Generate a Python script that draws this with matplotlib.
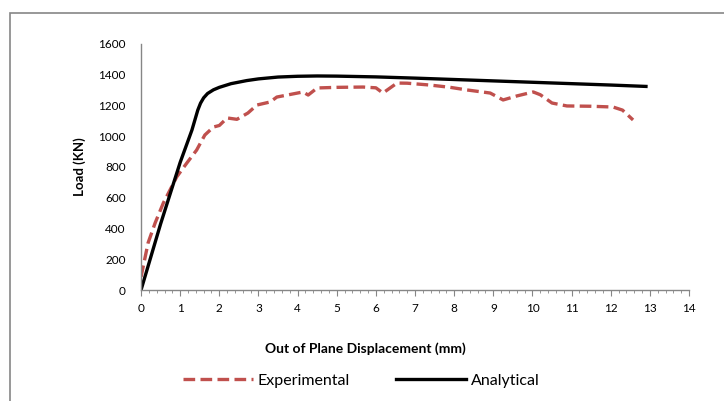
import matplotlib.pyplot as plt
from matplotlib.ticker import MultipleLocator
from matplotlib.patches import Rectangle

plt.rcParams['font.family'] = ['Lato', 'DejaVu Sans']

# Experimental curve
exp_disp = [0.0, 0.18, 0.36, 0.57, 0.78, 0.91, 1.17, 1.42, 1.63, 1.85, 2.0, 2.2,
            2.45, 2.73, 2.96, 3.3, 3.47, 4.14, 4.27, 4.5, 5.0, 5.67, 6.0, 6.18,
            6.54, 6.8, 7.38, 7.9, 8.33, 8.92, 9.25, 9.6, 10.02, 10.2, 10.5,
            10.88, 11.5, 12.06, 12.3, 12.57]
exp_load = [85, 306, 436, 566, 670, 735, 826, 910, 1008, 1060, 1070, 1119,
            1110, 1151, 1203, 1223, 1255, 1288, 1268, 1314, 1318, 1320, 1315, 1281,
            1346, 1345, 1333, 1318, 1301, 1281, 1236, 1262, 1288, 1270, 1216,
            1197, 1195, 1190, 1170, 1106]

# Analytical curve
ana_disp = [0.0, 0.25, 0.5, 1.0, 1.3, 1.45, 1.52, 1.6, 1.7, 1.85, 2.0, 2.3,
            2.7, 3.0, 3.5, 4.0, 4.5, 5.0, 6.0, 7.0, 8.0, 9.0, 10.0, 11.0, 12.0, 12.9]
ana_load = [0, 215, 430, 830, 1040, 1170, 1215, 1250, 1278, 1302, 1318, 1342,
            1362, 1373, 1385, 1390, 1392, 1391, 1386, 1378, 1369, 1360, 1351,
            1342, 1333, 1324]

fig = plt.figure(figsize=(7.24, 4.01), dpi=100)
ax = fig.add_axes([0.1948, 0.2768, 0.7569, 0.6135])

ax.plot(exp_disp, exp_load, color='#C0504D', lw=2.4, linestyle=(0, (3.5, 1.6)),
        label='Experimental')
ax.plot(ana_disp, ana_load, color='black', lw=2.4, label='Analytical')

ax.set_xlim(0, 14)
ax.set_ylim(0, 1600)
ax.xaxis.set_major_locator(MultipleLocator(1))
ax.xaxis.set_minor_locator(MultipleLocator(0.2))
ax.yaxis.set_major_locator(MultipleLocator(200))

for s in ['top', 'right']:
    ax.spines[s].set_visible(False)
for s in ['left', 'bottom']:
    ax.spines[s].set_color('#868686')
    ax.spines[s].set_linewidth(1.0)

ax.tick_params(axis='x', which='major', length=4, color='#868686', labelsize=8.5, pad=5)
ax.tick_params(axis='x', which='minor', length=2, color='#868686')
ax.tick_params(axis='y', length=0, labelsize=8.5, pad=11)

fig.text(0.504, 0.130, 'Out of Plane Displacement (mm)', fontsize=10, fontweight='bold',
         ha='center', va='center')
ax.set_ylabel('Load (KN)', fontsize=9.5, fontweight='bold', labelpad=9)

fig.legend(loc='center', bbox_to_anchor=(0.499, 0.05), ncol=2, frameon=False,
           fontsize=11.5, handlelength=4.4, handletextpad=0.3, columnspacing=2.9)

# chart-area border (only top and left edges visible in the crop)
fig.patches.append(Rectangle((10 / 724, -0.1), 1.2, 1.1 - 13 / 401, transform=fig.transFigure,
                             fill=False, edgecolor='#868686', lw=1.2))

fig.savefig('out.png', dpi=100)
